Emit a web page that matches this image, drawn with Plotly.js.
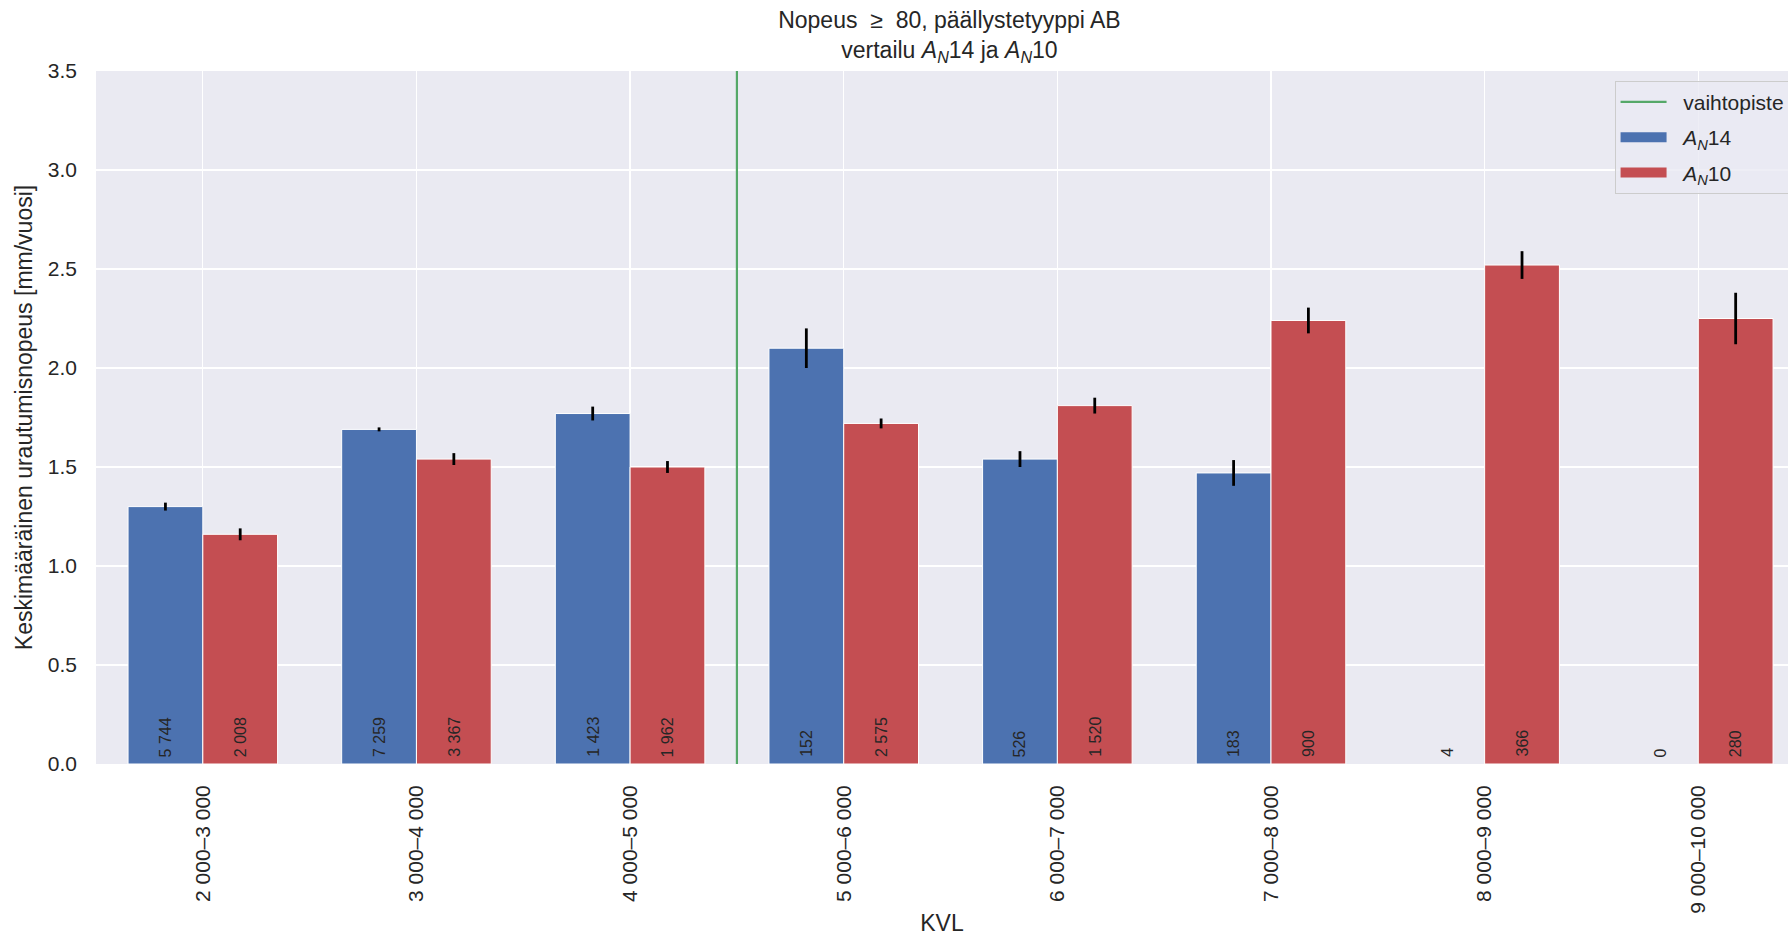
<!DOCTYPE html>
<html>
<head>
<meta charset="utf-8">
<script src="https://cdn.plot.ly/plotly-3.0.1.min.js"></script>
<style>html,body{margin:0;padding:0;background:#fff;}#chart{width:1788px;height:946px;}</style>
</head>
<body>
<div id="chart"></div>
<script>
// ---- data ----
const categories = ["2 000\u20133 000","3 000\u20134 000","4 000\u20135 000","5 000\u20136 000","6 000\u20137 000","7 000\u20138 000","8 000\u20139 000","9 000\u201310 000"];
const an14Values = [1.30, 1.69, 1.77, 2.10, 1.54, 1.47, null, null];
const an14Errors = [0.02, 0.01, 0.035, 0.10, 0.04, 0.065, null, null];
const an14Counts = ["5 744","7 259","1 423","152","526","183","4","0"];
const an10Values = [1.16, 1.54, 1.50, 1.72, 1.81, 2.24, 2.52, 2.25];
const an10Errors = [0.03, 0.03, 0.03, 0.025, 0.04, 0.065, 0.07, 0.13];
const an10Counts = ["2 008","3 367","1 962","2 575","1 520","900","366","280"];
const switchPoint = 2.5;
const yRange = [0, 3.5];
const yTicks = [0, 0.5, 1.0, 1.5, 2.0, 2.5, 3.0, 3.5];

const idx = categories.map((_, i) => i);
const txtColor = '#262626';
const fontFam = '"Liberation Sans", Arial, sans-serif';
const blue = '#4c72b0', red = '#c44e52', green = '#55a868';
const pad = '\u00a0\u00a0';
const nameAN14 = '<i>A</i><sub><i>N</i></sub>14';
const nameAN10 = '<i>A</i><sub><i>N</i></sub>10';

const traces = [
  {type:'bar', x:idx, y:an14Values, name:nameAN14, showlegend:false,
   marker:{color:blue, line:{color:'#ffffff', width:1}},
   error_y:{type:'data', array:an14Errors, visible:true, color:'#000000', thickness:2.8, width:0}},
  {type:'bar', x:idx, y:an10Values, name:nameAN10, showlegend:false,
   marker:{color:red, line:{color:'#ffffff', width:1}},
   error_y:{type:'data', array:an10Errors, visible:true, color:'#000000', thickness:2.8, width:0}},
  {type:'scatter', mode:'lines', x:[switchPoint, switchPoint], y:yRange, name:pad + 'vaihtopiste',
   legendgroup:'g1', legendrank:1,
   line:{color:green, width:2.2}, hoverinfo:'skip'},
  // legend-only entries (rectangular swatches like the reference)
  {type:'scatter', mode:'lines', x:[null], y:[null], name:pad + nameAN14, legendgroup:'g2', legendrank:2,
   line:{color:blue, width:15}, hoverinfo:'skip'},
  {type:'scatter', mode:'lines', x:[null], y:[null], name:pad + nameAN10, legendgroup:'g3', legendrank:3,
   line:{color:red, width:15}, hoverinfo:'skip'}
];

const barW = 0.35;
const annotations = [];
idx.forEach(i => {
  annotations.push({x:i - barW/2, y:0, xref:'x', yref:'y', text:an14Counts[i], showarrow:false,
    textangle:-90, yanchor:'bottom', xanchor:'center', yshift:5, font:{size:16, color:txtColor, family:fontFam}});
  annotations.push({x:i + barW/2, y:0, xref:'x', yref:'y', text:an10Counts[i], showarrow:false,
    textangle:-90, yanchor:'bottom', xanchor:'center', yshift:5, font:{size:16, color:txtColor, family:fontFam}});
});

const layout = {
  width:1788, height:946,
  paper_bgcolor:'#ffffff', plot_bgcolor:'#eaeaf2',
  font:{family:fontFam, color:txtColor, size:21},
  margin:{l:96, r:0, t:71, b:182, autoexpand:false},
  barmode:'group', bargap:0.3, bargroupgap:0,
  title:{text:'Nopeus  \u2265  80, päällystetyyppi AB<br>vertailu <i>A</i><sub><i>N</i></sub>14 ja <i>A</i><sub><i>N</i></sub>10',
         x:0.531, xanchor:'center', y:0.970, yanchor:'middle', yref:'container', font:{size:23, color:txtColor}},
  xaxis:{type:'linear', range:[-0.5, 7.42], tickvals:idx, ticktext:categories, tickangle:-90,
         showgrid:true, gridcolor:'#ffffff', gridwidth:1.3, zeroline:false, showline:false, ticks:'',
         tickfont:{size:21, color:txtColor}, ticklabelstandoff:16,
         title:{text:'KVL', font:{size:23, color:txtColor}, standoff:2}},
  yaxis:{range:yRange, tickvals:yTicks, ticktext:yTicks.map(v=>v.toFixed(1)),
         showgrid:true, gridcolor:'#ffffff', gridwidth:1.3, zeroline:false, showline:false, ticks:'',
         tickfont:{size:21, color:txtColor}, ticklabelstandoff:18,
         title:{text:'Keskimääräinen urautumisnopeus [mm/vuosi]', font:{size:23, color:txtColor}, standoff:8}},
  legend:{x:0.8975, xanchor:'left', y:0.986, yanchor:'top', bgcolor:'rgba(234,234,242,0.8)',
          bordercolor:'#cccccc', borderwidth:1, font:{size:21, color:txtColor}, traceorder:'grouped',
          tracegroupgap:5, itemwidth:46},
  annotations:annotations,
  showlegend:true
};

Plotly.newPlot('chart', traces, layout, {displayModeBar:false, staticPlot:true});
</script>
</body>
</html>
